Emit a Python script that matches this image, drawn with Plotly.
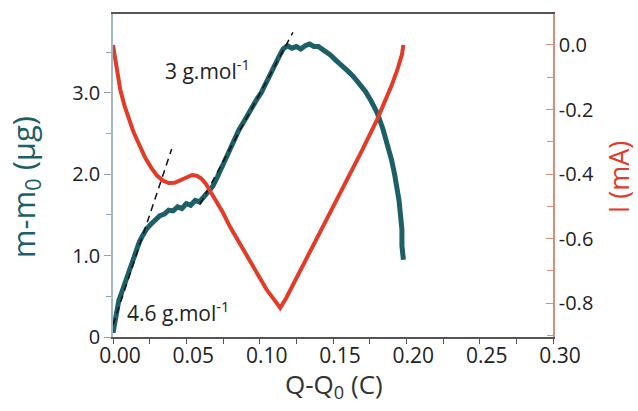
import plotly.graph_objects as go

# Mass change m-m0 (ug) vs charge Q-Q0 (C)
q_mass = [0.000, 0.002, 0.004, 0.006, 0.008, 0.010, 0.012, 0.014, 0.016, 0.018, 0.020,
          0.023, 0.026, 0.029, 0.032, 0.035, 0.038, 0.041, 0.044, 0.047, 0.050,
          0.053, 0.056, 0.059, 0.062, 0.065, 0.068, 0.071, 0.074, 0.077, 0.080,
          0.083, 0.086, 0.089, 0.092, 0.095, 0.098, 0.101, 0.104, 0.107, 0.110,
          0.113, 0.116, 0.119, 0.122, 0.125, 0.128, 0.131, 0.134, 0.137, 0.140,
          0.144, 0.148, 0.152, 0.156, 0.160, 0.164, 0.168, 0.172, 0.176, 0.180,
          0.184, 0.187, 0.190, 0.192, 0.194, 0.195, 0.196, 0.197, 0.197, 0.198]
m_mass = [0.05, 0.28, 0.45, 0.55, 0.66, 0.76, 0.88, 0.99, 1.08, 1.17, 1.24,
          1.33, 1.39, 1.44, 1.49, 1.51, 1.56, 1.55, 1.60, 1.58, 1.64,
          1.62, 1.68, 1.66, 1.72, 1.78, 1.85, 1.96, 2.08, 2.20, 2.33,
          2.44, 2.55, 2.64, 2.74, 2.82, 2.92, 3.00, 3.12, 3.22, 3.33,
          3.44, 3.54, 3.58, 3.55, 3.57, 3.54, 3.58, 3.60, 3.57, 3.57,
          3.52, 3.47, 3.40, 3.34, 3.27, 3.20, 3.11, 3.02, 2.90, 2.76,
          2.56, 2.38, 2.17, 2.00, 1.82, 1.68, 1.50, 1.32, 1.12, 0.95]

# Current I (mA) vs charge
q_cur = [0.000, 0.001, 0.003, 0.005, 0.008, 0.011, 0.014, 0.018, 0.022, 0.026,
         0.030, 0.034, 0.038, 0.042, 0.046, 0.050, 0.054, 0.057, 0.060, 0.063,
         0.066, 0.070, 0.075, 0.080, 0.085, 0.090, 0.095, 0.100, 0.105, 0.110,
         0.114, 0.118, 0.122, 0.130, 0.140, 0.150, 0.160, 0.170, 0.180, 0.186,
         0.190, 0.194, 0.197, 0.198]
i_cur = [0.00, -0.03, -0.09, -0.14, -0.19, -0.235, -0.27, -0.31, -0.35, -0.38,
         -0.405, -0.42, -0.428, -0.427, -0.42, -0.41, -0.403, -0.405, -0.413, -0.428,
         -0.45, -0.48, -0.52, -0.565, -0.605, -0.645, -0.685, -0.725, -0.76, -0.79,
         -0.815, -0.785, -0.75, -0.68, -0.594, -0.505, -0.416, -0.325, -0.232, -0.172,
         -0.125, -0.075, -0.03, 0.00]

# Slope guide lines
fit1_q = [0.000, 0.040]
fit1_m = [0.15, 2.31]
fit2_q = [0.0593, 0.1227]
fit2_m = [1.63, 3.745]

x_ticks = [0.00, 0.05, 0.10, 0.15, 0.20, 0.25, 0.30]
x_ticktext = ["0.00", "0.05", "0.10", "0.15", "0.20", "0.25", "0.30"]
y_ticks = [0, 1, 2, 3]
y_ticktext = ["0", "1.0", "2.0", "3.0"]
y2_ticks = [-0.8, -0.6, -0.4, -0.2, 0.0]
y2_ticktext = ["-0.8", "-0.6", "-0.4", "-0.2", "0.0"]

TEAL = "#1d5f66"
RED = "#e23b28"
FONT = "Open Sans"

fig = go.Figure()
fig.add_trace(go.Scatter(x=q_mass, y=m_mass, mode="lines",
                         line=dict(color=TEAL, width=5), yaxis="y", showlegend=False))
fig.add_trace(go.Scatter(x=fit1_q, y=fit1_m, mode="lines",
                         line=dict(color="#111111", width=1.5, dash="7px,5px"), showlegend=False))
fig.add_trace(go.Scatter(x=fit2_q, y=fit2_m, mode="lines",
                         line=dict(color="#111111", width=1.5, dash="7px,5px"), showlegend=False))
fig.add_trace(go.Scatter(x=q_cur, y=i_cur, mode="lines",
                         line=dict(color=RED, width=4), yaxis="y2", showlegend=False))

fig.add_annotation(x=0.034, y=3.29, xref="x", yref="y", text="3 g.mol<sup>-1</sup>",
                   showarrow=False, xanchor="left", yanchor="middle",
                   font=dict(family=FONT, size=21, color="#222222"))
fig.add_annotation(x=0.008, y=0.31, xref="x", yref="y", text="4.6 g.mol<sup>-1</sup>",
                   showarrow=False, xanchor="left", yanchor="middle",
                   font=dict(family=FONT, size=21, color="#222222"))

# Axis titles
fig.add_annotation(x=-0.20, y=0.464, xref="paper", yref="paper",
                   text="m-m<sub>0</sub> (μg)", textangle=-90, showarrow=False,
                   xanchor="center", yanchor="middle",
                   font=dict(family=FONT, size=31, color=TEAL))
fig.add_annotation(x=1.148, y=0.495, xref="paper", yref="paper",
                   text="I (mA)", textangle=-90, showarrow=False,
                   xanchor="center", yanchor="middle",
                   font=dict(family=FONT, size=27, color=RED))
fig.add_annotation(x=0.502, y=-0.149, xref="paper", yref="paper",
                   text="Q-Q<sub>0</sub> (C)", showarrow=False,
                   xanchor="center", yanchor="middle",
                   font=dict(family=FONT, size=26, color="#333333"))

fig.update_layout(
    width=638, height=411,
    margin=dict(l=113, r=85, t=14, b=74),
    paper_bgcolor="white", plot_bgcolor="white",
    font=dict(family=FONT, color="#222222"),
    xaxis=dict(range=[0, 0.30], tickvals=x_ticks, ticktext=x_ticktext,
               ticks="outside", ticklen=5, tickcolor="#555555",
               ticklabelshift=7, ticklabelstandoff=-6,
               minor=dict(tickvals=[0.025, 0.075, 0.125, 0.175, 0.225, 0.275],
                          ticks="outside", ticklen=5, tickcolor="#555555"),
               showline=True, linecolor="#555555", linewidth=1.5, mirror=True,
               showgrid=False, zeroline=False,
               tickfont=dict(size=21, color="#222222")),
    yaxis=dict(range=[0, 3.97], tickvals=y_ticks, ticktext=y_ticktext,
               ticks="outside", ticklen=7, tickcolor="#8fa3b3",
               minor=dict(tickvals=[0.5, 1.5, 2.5, 3.5], ticks="outside", ticklen=5,
                          tickcolor="#8fa3b3"),
               showline=True, linecolor="#a3b6c4", linewidth=1.5,
               showgrid=False, zeroline=False,
               tickfont=dict(size=20, color="#222222")),
    yaxis2=dict(range=[-0.905, 0.096], overlaying="y", side="right",
                tickvals=y2_ticks, ticktext=y2_ticktext,
                ticks="inside", ticklen=7, tickcolor="#d98c80",
                minor=dict(tickvals=[-0.9, -0.7, -0.5, -0.3, -0.1], ticks="inside",
                           ticklen=6, tickcolor="#d98c80"),
                showline=True, linecolor="#d98c80", linewidth=1.5,
                showgrid=False, zeroline=False,
                tickfont=dict(size=20, color="#222222")),
)

fig.write_html("out.html")
